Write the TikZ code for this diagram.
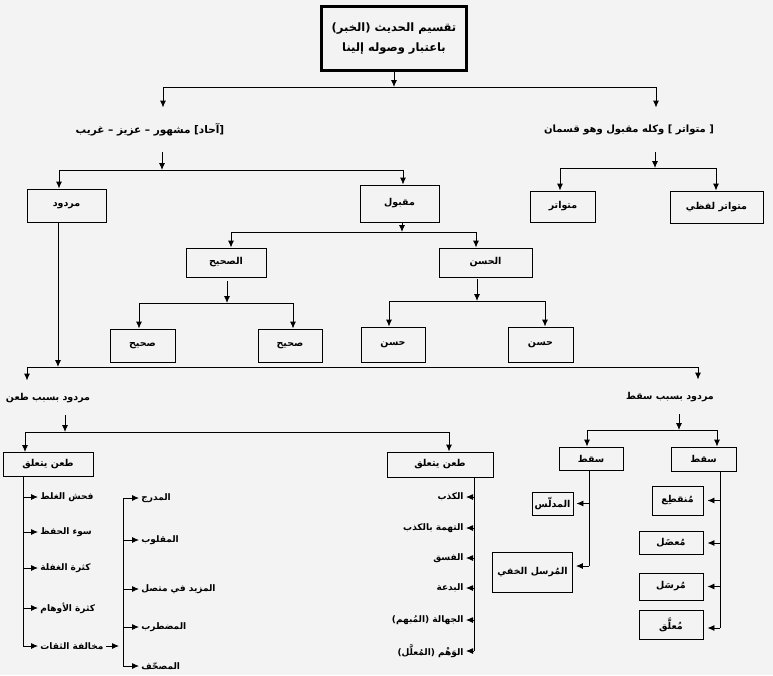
\documentclass[tikz,border=0pt]{standalone}
\usepackage{fontspec}
\usepackage{tikz}
\usetikzlibrary{arrows.meta,calc,positioning}
\newfontfamily\arabicfont[Script=Arabic]{DejaVu Sans}
\TeXXeTstate=1
\newcommand{\artxt}[1]{{\arabicfont\bfseries\beginR #1\endR}}
\definecolor{bggray}{RGB}{243,243,243}

\begin{document}
\begin{tikzpicture}[x=1pt,y=-1pt,line width=0.9pt,>={Latex[length=7pt,width=6pt]}]
\tikzstyle{kbox}=[rectangle,draw=black,line width=0.9pt,inner sep=0pt,font=\fontsize{9.5}{11}\selectfont]
\tikzstyle{klabel}=[inner sep=0pt,font=\fontsize{10.5}{12}\selectfont]
\tikzstyle{kitem}=[inner sep=2pt,font=\fontsize{9}{11}\selectfont]

\fill[bggray] (0,0) rectangle (773,675);

%TOP
\node[kbox,line width=3pt,minimum width=145pt,minimum height=64pt,align=center,font=\fontsize{11.5}{20}\selectfont] (taqsim) at (394,38.5) {\artxt{تقسيم الحديث (الخبر)}\\\artxt{باعتبار وصوله إلينا}};
\node[klabel,minimum height=44pt] (ahad) at (150,130) {\artxt{[آحاد] مشهور – عزيز – غريب}};
\node[klabel,minimum height=44pt,font=\fontsize{10}{12}\selectfont] (mutlbl) at (629,130) {\artxt{[ متواتر ] وكله مقبول وهو قسمان}};

%%%%%%%%%%%%%%%%%%%%%%%%%%%%%%%%%%%%%%%%%%%%%%%%%%%%%%%%%%%%%%%%%%%%%%%%
%row 2
\node[kbox,minimum width=79pt,minimum height=33pt] (mardud) at (66.5,205.5) {\artxt{مردود}};
\node[kbox,minimum width=79pt,minimum height=37pt] (maqbul) at (399.5,203.5) {\artxt{مقبول}};
\node[kbox,minimum width=65pt,minimum height=31pt] (mutbox1) at (563,206.5) {\artxt{متواتر}};
\node[kbox,minimum width=93pt,minimum height=32pt] (mutbox2) at (716.5,207) {\artxt{متواتر لفظي}};

%sahih / hasan
\node[kbox,minimum width=80pt,minimum height=29pt] (sahih) at (226,262.5) {\artxt{الصحيح}};
\node[kbox,minimum width=93pt,minimum height=29pt] (hasan) at (485.5,262.5) {\artxt{الحسن}};
\node[kbox,minimum width=65pt,minimum height=33pt] (sahih1) at (142.5,345.5) {\artxt{صحيح}};
\node[kbox,minimum width=64pt,minimum height=33pt] (sahih2) at (290,345.5) {\artxt{صحيح}};
\node[kbox,minimum width=64pt,minimum height=35pt] (hasan1) at (393,344.5) {\artxt{حسن}};
\node[kbox,minimum width=65pt,minimum height=35pt] (hasan2) at (540.5,344.5) {\artxt{حسن}};

%%%%%%%%%%%%%%%%%%%%%%%%%%%%%%%%%%%%%%%%%%%%%%%%%%%%%%%%%%%%%%%%%%%%%%%%
%mardud
\node[klabel,minimum height=34pt,font=\fontsize{9.5}{12}\selectfont] (tanlbl) at (48,398) {\artxt{مردود بسبب طعن}};
\node[klabel,minimum height=34pt,font=\fontsize{9.5}{12}\selectfont] (saqtlbl) at (670,397) {\artxt{مردود بسبب سقط}};
\node[kbox,minimum width=90pt,minimum height=24pt] (tanbox1) at (48,464.5) {\artxt{طعن يتعلق}};
\node[kbox,minimum width=106pt,minimum height=25pt] (tanbox2) at (440,464.5) {\artxt{طعن يتعلق}};
\node[kbox,minimum width=64pt,minimum height=23pt] (saqt1) at (591,458.5) {\artxt{سقط}};
\node[kbox,minimum width=65pt,minimum height=24pt] (saqt2) at (703.5,459) {\artxt{سقط}};

%list 1
\node[kitem,anchor=west] (fahsh) at (38,497) {\artxt{فحش الغلط}};
\node[kitem,anchor=west] (suu) at (38,532) {\artxt{سوء الحفظ}};
\node[kitem,anchor=west] (ghafla) at (38,568) {\artxt{كثرة الغفلة}};
\node[kitem,anchor=west] (awham) at (38,608) {\artxt{كثرة الأوهام}};
\node[kitem,anchor=west] (mukhal) at (38,646) {\artxt{مخالفة الثقات}};
%list 1b
\node[kitem,anchor=west] (mudraj) at (139,498) {\artxt{المدرج}};
\node[kitem,anchor=west] (maqlub) at (139,540) {\artxt{المقلوب}};
\node[kitem,anchor=west] (mazid) at (139,589) {\artxt{المزيد في متصل}};
\node[kitem,anchor=west] (mudtarib) at (139,627) {\artxt{المضطرب}};
\node[kitem,anchor=west] (musahhaf) at (139,666) {\artxt{المصحّف}};
%list 2
\node[kitem,anchor=east] (kadhib) at (466,497) {\artxt{الكذب}};
\node[kitem,anchor=east] (tuhma) at (466,528) {\artxt{التهمة بالكذب}};
\node[kitem,anchor=east] (fisq) at (466,558) {\artxt{الفسق}};
\node[kitem,anchor=east] (bida) at (466,588) {\artxt{البدعة}};
\node[kitem,anchor=east] (jahala) at (466,620) {\artxt{الجهالة (المُبهم)}};
\node[kitem,anchor=east] (wahm) at (466,651) {\artxt{الوَهْم (المُعلَّل)}};
%saqt
\node[kbox,minimum width=41pt,minimum height=23pt] (mudallas) at (552.5,503.5) {\artxt{المدلّس}};
\node[kbox,minimum width=80pt,minimum height=40pt] (mursalkh) at (532.5,572) {\artxt{المُرسل الخفي}};
\node[kbox,minimum width=51pt,minimum height=29pt] (munqati) at (677.5,500.5) {\artxt{مُنقطِع}};
\node[kbox,minimum width=64pt,minimum height=23pt] (mudal) at (671,543) {\artxt{مُعضَل}};
\node[kbox,minimum width=64pt,minimum height=27pt] (mursal) at (671,586.5) {\artxt{مُرسَل}};
\node[kbox,minimum width=64pt,minimum height=29pt] (muallaq) at (671,624.5) {\artxt{مُعلَّق}};

%%%%%%%%%%%%%%%%%%%%%%%%%%%%%%%%%%%%%%%%%%%%%%%%%%%%%%%%%%%%%%
%ARROWS
\coordinate (jtop) at (394,87);
\coordinate (jtopl) at (163,87);
\coordinate (jtopr) at (656,87);
\draw[->] (taqsim.south) -- (jtop);
\draw (jtopl) -- (jtopr);
\draw[->] (jtopl) -- (jtopl |- ahad.north);
\draw[->] (jtopr) -- (jtopr |- mutlbl.north);

% ahad
\coordinate (jahad) at (162,170);
\coordinate (jahadl) at (59,170);
\coordinate (jahadr) at (403,170);
\draw[->] (ahad.south -| jahad) -- (jahad);
\draw (jahadl) -- (jahadr);
\draw[->] (jahadl) -- (jahadl |- mardud.north);
\draw[->] (jahadr) -- (jahadr |- maqbul.north);

% mutawatir
\coordinate (jmut) at (655,168);
\coordinate (jmutl) at (560,168);
\coordinate (jmutr) at (716,168);
\draw[->] (mutlbl.south -| jmut) -- (jmut);
\draw (jmutl) -- (jmutr);
\draw[->] (jmutl) -- (jmutl |- mutbox1.north);
\draw[->] (jmutr) -- (jmutr |- mutbox2.north);

% maqbul
\coordinate (jmaq) at (402,232);
\coordinate (jmaql) at (231,232);
\coordinate (jmaqr) at (476,232);
\draw[->] (maqbul.south -| jmaq) -- (jmaq);
\draw (jmaql) -- (jmaqr);
\draw[->] (jmaql) -- (jmaql |- sahih.north);
\draw[->] (jmaqr) -- (jmaqr |- hasan.north);

% sahih
\coordinate (jsah) at (227,303);
\coordinate (jsahl) at (139,303);
\coordinate (jsahr) at (293,303);
\draw[->,shorten <=4pt] (sahih.south -| jsah) -- (jsah);
\draw (jsahl) -- (jsahr);
\draw[->] (jsahl) -- (jsahl |- sahih1.north);
\draw[->] (jsahr) -- (jsahr |- sahih2.north);

% hasan
\coordinate (jhas) at (477,301);
\coordinate (jhasl) at (389,301);
\coordinate (jhasr) at (545,301);
\draw[->,shorten <=2pt] (hasan.south -| jhas) -- (jhas);
\draw (jhasl) -- (jhasr);
\draw[->] (jhasl) -- (jhasl |- hasan1.north);
\draw[->] (jhasr) -- (jhasr |- hasan2.north);

% mardud
\coordinate (jmar) at (58,367);
\coordinate (jmarl) at (27,367);
\coordinate (jmarr) at (698,367);
\draw[->] (mardud.south -| jmar) -- (jmar);
\draw (jmarl) -- (jmarr);
\draw[->] (jmarl) -- (jmarl |- tanlbl.north);
\draw[->] (jmarr) -- (jmarr |- saqtlbl.north);

% tan
\coordinate (jtan) at (65,432);
\coordinate (jtanl) at (25,432);
\coordinate (jtanr) at (449,432);
\draw[->] (tanlbl.south -| jtan) -- (jtan);
\draw (jtanl) -- (jtanr);
\draw[->] (jtanl) -- (jtanl |- tanbox1.north);
\draw[->] (jtanr) -- (jtanr |- tanbox2.north);

% saqt
\coordinate (jsq) at (679,430);
\coordinate (jsql) at (587,430);
\coordinate (jsqr) at (717,430);
\draw[->] (saqtlbl.south -| jsq) -- (jsq);
\draw (jsql) -- (jsqr);
\draw[->] (jsql) -- (jsql |- saqt1.north);
\draw[->] (jsqr) -- (jsqr |- saqt2.north);

% list 1
\coordinate (tl) at (23,646);
\draw (tanbox1.south -| tl) -- (tl);
\draw[->] (tl |- fahsh) -- (fahsh);
\draw[->] (tl |- suu) -- (suu);
\draw[->] (tl |- ghafla) -- (ghafla);
\draw[->] (tl |- awham) -- (awham);
\draw[->] (tl) -- (mukhal);

% list 1b
\coordinate (st) at (123,498);
\coordinate (sb) at (123,666);
\draw (st) -- (sb);
\draw[->,shorten >=4pt] (mukhal.east) -- (sb |- mukhal);
\draw[->] (st) -- (mudraj);
\draw[->] (sb |- maqlub) -- (maqlub);
\draw[->] (sb |- mazid) -- (mazid);
\draw[->] (sb |- mudtarib) -- (mudtarib);
\draw[->] (sb) -- (musahhaf);

% list 2
\coordinate (tr) at (474,651);
\draw (tanbox2.south -| tr) -- (tr);
\draw[->] (tr |- kadhib) -- (kadhib);
\draw[->] (tr |- tuhma) -- (tuhma);
\draw[->] (tr |- fisq) -- (fisq);
\draw[->] (tr |- bida) -- (bida);
\draw[->] (tr |- jahala) -- (jahala);
\draw[->] (tr) -- (wahm);

% saqt 1
\coordinate (sq1) at (589,566);
\draw (saqt1.south -| sq1) -- (sq1);
\draw[->,shorten >=3pt] (sq1 |- mudallas) -- (mudallas);
\draw[->,shorten >=3pt] (sq1) -- (sq1 -| mursalkh.east);

% saqt 2
\coordinate (sq2) at (720,628);
\draw (saqt2.south -| sq2) -- (sq2);
\draw[->,shorten >=4pt] (sq2 |- munqati) -- (munqati);
\draw[->,shorten >=4pt] (sq2 |- mudal) -- (mudal);
\draw[->,shorten >=4pt] (sq2 |- mursal) -- (mursal);
\draw[->,shorten >=4pt] (sq2) -- (sq2 -| muallaq.east);

\end{tikzpicture}
\end{document}
